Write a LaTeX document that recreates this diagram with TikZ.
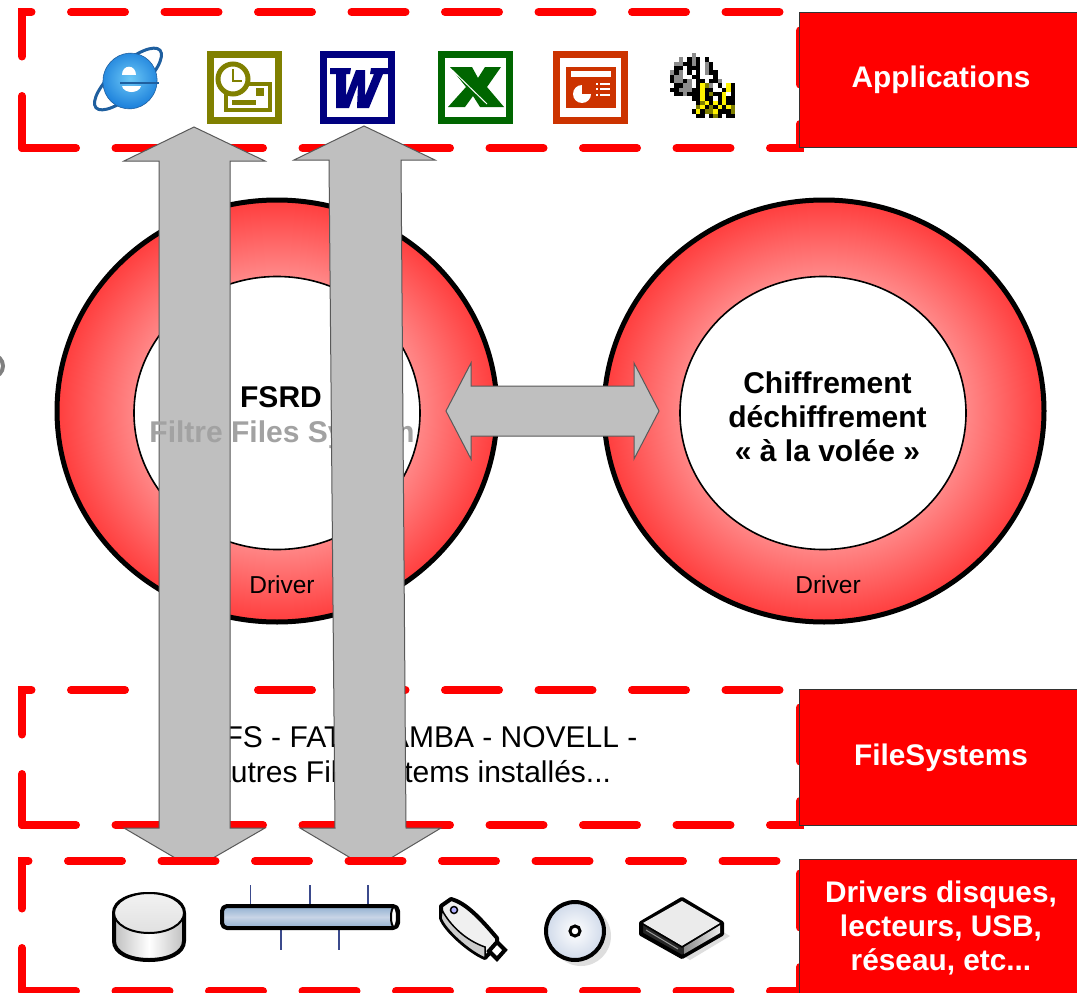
\documentclass[tikz,border=0pt]{standalone}
\usepackage{fontspec}
\setmainfont{Liberation Sans}
\usetikzlibrary{calc,shapes.geometric}

\definecolor{framered}{HTML}{FF0000}
\definecolor{arrowgray}{HTML}{BFBFBF}
\definecolor{fadedtext}{HTML}{A2A2A2}
\definecolor{ieblue}{HTML}{1E82DC}
\definecolor{ielight}{HTML}{6CC8F6}
\definecolor{iedark}{HTML}{1F5F9F}
\definecolor{outlookolive}{HTML}{808000}
\definecolor{wordnavy}{HTML}{000080}
\definecolor{excelgreen}{HTML}{006600}
\definecolor{pptorange}{HTML}{CC3300}
\definecolor{busline}{HTML}{3B4A8C}
\definecolor{pipedark}{HTML}{8FAFD0}
\definecolor{pipelight}{HTML}{C8D4E6}
\definecolor{cdblue}{HTML}{D0DAEA}
\definecolor{shadowgray}{HTML}{DEDEDE}

\pgfdeclareradialshading{ringshade}{\pgfpoint{0bp}{0bp}}{
	rgb(0bp)=(1,0.53,0.53);
	rgb(16.2bp)=(1,0.53,0.53);
	rgb(25bp)=(1,0.24,0.24);
	rgb(50bp)=(1,0.24,0.24)}

\tikzset{
	framedash/.style={draw=framered,line width=8pt,line cap=round,dash pattern=on 54pt off 39.5pt},
	ringouter/.style={ellipse,draw=black,line width=5pt,shade,shading=ringshade,minimum width=440pt,minimum height=422pt,inner sep=0pt},
	ringinner/.style={ellipse,draw=black,line width=1.6pt,fill=white,minimum width=286pt,minimum height=273pt,inner sep=0pt},
	blockarrow/.style={fill=arrowgray,draw=black!65,line width=1pt,line join=miter},
	boldtext/.style={font=\fontsize{30}{34}\selectfont\bfseries,align=center,inner sep=0pt},
	plaintext/.style={font=\fontsize{30}{35}\selectfont,align=center,inner sep=0pt},
	drivertext/.style={font=\fontsize{24.5}{28}\selectfont,inner sep=0pt,anchor=base},
	labelbox/.style={rectangle,fill=framered,draw=black!80,line width=1pt,text=white,font=\fontsize{29.8}{34}\selectfont\bfseries,align=center,inner sep=0pt,minimum width=284pt},
	deviceline/.style={draw=black,line width=4pt,line join=round}
}

\begin{document}
\begin{tikzpicture}[x=1pt,y=-1pt]
	\useasboundingbox (0,0) rectangle (1077,993);
	\fill[white] (0,0) rectangle (1077,993);
	\draw[black!50,line width=4pt] (-8,366) circle[radius=11pt];

	\foreach \ya/\yb/\ph in {12/148/2,690/825/3}{
		\draw[framedash] (22,\yb) -- (800,\yb) -- (800,\ya);
		\draw[framedash,dash phase=\ph pt] (22,\yb) -- (22,\ya) -- (800,\ya);
	}

	\node[ringouter] (fsrd) at (277,411) {};
	\node[ringinner] (fsrdcore) at (277,413) {};
	\node[ringouter] (crypt) at (824,411) {};
	\node[ringinner] (cryptcore) at (823,413) {};
	\node[drivertext] (fsrddriver) at (282,593) {Driver};
	\node[drivertext] (cryptdriver) at (828,593) {Driver};
	\node[boldtext,anchor=base] (fsrdname) at (281,407) {FSRD};
	\node[boldtext] (cryptname) at (827.5,417) {Chiffrement\\déchiffrement\\« à la volée »};
	\node[plaintext] (fslist) at (411,758) {NTFS - FAT - SAMBA - NOVELL -\\Autres FileSystems installés...};

	\coordinate (linkw) at ($(fsrd.center)+(169,0)$);
	\coordinate (linke) at ($(crypt.center)+(-165,0)$);
	\draw[blockarrow] (linkw) -- ++(25,-48) -- ++(0,23) -- ($(linke)+(-25,-25)$) -- ++(0,-23)
		-- (linke) -- ++(-25,48) -- ++(0,-23) -- ($(linkw)+(25,25)$) -- ++(0,23) -- cycle;

	\draw[blockarrow] (194,127) -- (265,161) -- (230,161) -- (230,828) -- (265,828) -- (194,869)
		-- (124,828) -- (159,828) -- (159,161) -- (124,161) -- cycle;
	\node[boldtext,anchor=base,text=fadedtext] (fsrdrole) at (282,442) {Filtre Files System};
	\draw[blockarrow] (364,126) -- (435,160) -- (401,160) -- (406,828) -- (441,828) -- (371,870)
		-- (300,828) -- (335,828) -- (329,160) -- (294,160) -- cycle;

	\fill[white] (22,861) rectangle (800,993);
	\draw[framedash] (22,991) -- (800,991) -- (800,861);
	\draw[framedash,dash phase=11pt] (22,991) -- (22,861) -- (800,861);

	\node[labelbox,minimum height=135pt] (apps) at (941,79.5) {Applications};
	\node[labelbox,minimum height=136pt] (files) at (941,757.5) {FileSystems};
	\node[labelbox,minimum height=138pt] (drivers) at (941,928) {Drivers disques,\\lecteurs, USB,\\réseau, etc...};

	\draw[iedark,line width=3pt,shift={(128,79)},rotate=42] (0,0) ellipse[x radius=43pt,y radius=15pt];
	\shade[inner color=ielight,outer color=ieblue,draw=iedark,line width=.6pt,shift={(130,81)},rotate=-20] (0,0) ellipse[x radius=27pt,y radius=28pt];
	\fill[white] (122,75) .. controls (122,64) and (136,64) .. (136,75) -- cycle;
	\fill[white] (122,86) -- (141,86) .. controls (139,94) and (124,94) .. (122,86) -- cycle;
	\draw[iedark,line width=2.5pt] (120,83) -- (159,83);

	\foreach \fx/\fcol in {207/outlookolive,320/wordnavy,438/excelgreen,553/pptorange}{
		\fill[\fcol] (\fx,51) rectangle ++(75,73);
		\fill[white] ($(\fx,58)+(7,0)$) rectangle ++(61,59);
	}

	\draw[outlookolive,line width=3.5pt,fill=white] (226,84) rectangle (270,110);
	\fill[outlookolive] (256,88) rectangle ++(8,8);
	\fill[outlookolive] (232,100) rectangle ++(24,5);
	\draw[outlookolive,line width=5pt,fill=white] (233,79) circle[radius=15pt];
	\draw[outlookolive,line width=2.5pt] (233,69) -- (233,81) -- (242,81);

	\fill[wordnavy] (330,68) -- (351,68) -- (350,74) -- (346,74) -- (346,96) -- (356,70) -- (365,70)
		-- (365,96) -- (374,74) -- (370,74) -- (371,68) -- (388,68) -- (388,74) -- (383,74)
		-- (369,108) -- (357,108) -- (358,84) -- (349,108) -- (336,108) -- (336,74) -- (330,74) -- cycle;

	\fill[excelgreen] (450,67) -- (472,67) -- (478,78) -- (485,67) -- (501,67) -- (487,87) -- (504,107)
		-- (480,107) -- (473,96) -- (465,107) -- (448,107) -- (466,87) -- cycle;
	\draw[white,line width=1pt] (451,69) -- (487,104);

	\fill[pptorange] (566,67) rectangle (616,108);
	\fill[white] (571,71) rectangle (611,77);
	\fill[white] (582,94) circle[radius=9pt];
	\fill[pptorange] (582,94) -- (582,84) -- (592,84) -- (592,94) -- cycle;
	\foreach \ly in {84,89,95}{
		\fill[white] (596,\ly-1) rectangle ++(2,2);
		\fill[white] (600,\ly-1) rectangle ++(10,2);
	}

	\foreach \c/\r in {4/1,6/1,8/1,3/2,4/2,6/2,9/2,1/3,2/3,4/3,5/3,6/3,9/3,1/4,4/4,6/4,9/4,10/4,0/5,5/5,6/5,10/5,0/6,3/6,6/6,7/6,9/6,10/6,1/7,2/7,6/7,8/7,0/8,1/8,5/8,6/8,8/8,9/8,11/7,14/7,1/9,2/9,4/9,5/9,6/9,8/9,10/9,11/9,12/8,14/8,14/9,5/10,6/10,8/10,9/10,11/10,13/10,14/10,6/11,9/11,11/11,13/11,14/11,6/12,8/12,10/12,12/12,14/12,5/13,7/13,11/13,12/13,13/13,6/14,7/14,9/14,11/14,13/14,14/14}{
		\fill[black] ({670+4.33*\c},{53+4.33*\r}) rectangle ++(4.33,4.33);
	}
	\foreach \c/\r in {5/0,2/1,5/1,1/2,2/2,5/2,8/2,8/3,0/4,2/4,8/4,1/5,2/5,1/6,2/6,4/6,3/7,4/7,9/7,2/8,3/8,4/8,11/6,3/9}{
		\fill[black!45] ({670+4.33*\c},{53+4.33*\r}) rectangle ++(4.33,4.33);
	}
	\foreach \c/\r in {7/7,13/7,7/8,13/8,12/9,7/9,7/10,12/10,8/11,10/11,12/11,7/12,11/12,13/12,6/13,10/13}{
		\fill[yellow] ({670+4.33*\c},{53+4.33*\r}) rectangle ++(4.33,4.33);
	}
	\foreach \c/\r in {8/7,9/9,6/12,9/12,8/13,9/13,14/13,14/12,10/14,7/11}{
		\fill[outlookolive] ({670+4.33*\c},{53+4.33*\r}) rectangle ++(4.33,4.33);
	}

	\draw[deviceline,left color=black!25,right color=black!25,middle color=white] (114,913) -- (114,941)
		.. controls (114,953) and (130,960) .. (149,960) .. controls (168,960) and (184,953) .. (184,941)
		-- (184,913) .. controls (184,901) and (168,894) .. (149,894) .. controls (130,894) and (114,901) .. (114,913) -- cycle;
	\draw[black,line width=2pt,top color=black!5,bottom color=black!12] (149,913) ellipse[x radius=35pt,y radius=20pt];

	\foreach \tx in {250.5,310,368}{
		\draw[busline,line width=1.5pt] (\tx,885) -- (\tx,906);
	}
	\foreach \tx in {281,339}{
		\draw[busline,line width=1.5pt] (\tx,928) -- (\tx,950);
	}
	\draw[deviceline,rounded corners=5pt,top color=pipedark,bottom color=pipedark,middle color=pipelight] (222,906) rectangle (398,928);
	\draw[black,line width=2pt,fill=white] (394,917) ellipse[x radius=3pt,y radius=10pt];

	\draw[deviceline,fill=black!6] (441,906) -- (451,899) .. controls (466,903) and (480,918) .. (497,938)
		-- (497,945) -- (485,958) .. controls (470,952) and (445,930) .. (441,918) -- cycle;
	\draw[black,line width=1.5pt,fill=black!20] (442,910) .. controls (450,925) and (465,940) .. (485,947)
		-- (485,958) .. controls (470,952) and (445,930) .. (441,918) -- cycle;
	\draw[black,line width=4pt,fill=white] (489,951) -- (497,942) -- (505,950) -- (497,959) -- cycle;
	\draw[black,line width=1.5pt,fill=blue!30] (454,910) circle[radius=3.5pt];

	\fill[shadowgray] (581,936) circle[radius=30pt];
	\shade[inner color=white,outer color=cdblue,draw=black,line width=4pt] (575,931) circle[radius=29pt];
	\draw[black,line width=3pt,fill=white] (575,931) circle[radius=5pt];

	\fill[shadowgray] (650,936) -- (690,912) -- (730,936) -- (690,960) -- cycle;
	\draw[deviceline,fill=black!85] (641,923) -- (682,899) -- (722,923) -- (722,934) -- (682,957) -- (641,934) -- cycle;
	\fill[black!8] (643,923) -- (682,901) -- (720,923) -- (682,946) -- cycle;
	\shade[left color=black!45,right color=black!8] (684,947) -- (720,925) -- (720,933) -- (684,954) -- cycle;
	\draw[black,line width=1.5pt] (641,923) -- (682,947) -- (722,923);
	\draw[black!40,line width=1pt] (646,930) -- (678,949);
\end{tikzpicture}
\end{document}
